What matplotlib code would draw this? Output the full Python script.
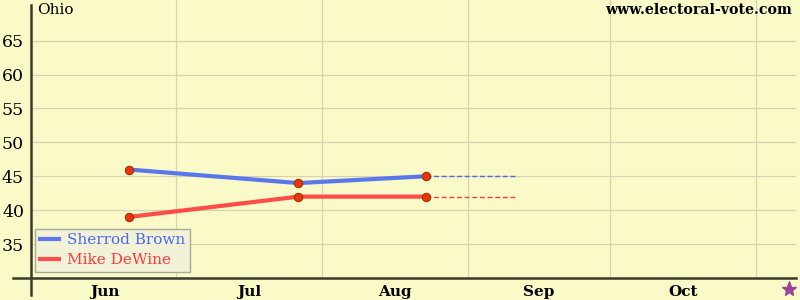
import matplotlib
matplotlib.use("Agg")
import matplotlib.pyplot as plt

# Data (x = days since Jun 1)
dates = [20, 56, 83]
brown = [46, 44, 45]
dewine = [39, 42, 42]
proj_end = 102
months = ["Jun", "Jul", "Aug", "Sep", "Oct"]
month_starts = [0, 30, 61, 92, 122, 153]
yticks = [35, 40, 45, 50, 55, 60, 65]
election_day = 160

bg = "#fafac8"
blue = "#4a6af0"
red = "#ff3a3a"

fig = plt.figure(figsize=(8, 3), dpi=100, facecolor=bg)
ax = fig.add_axes([31/800, 22/300, 765/800, 278/300])
ax.set_facecolor(bg)
ax.set_xlim(-0.7, 161.5)
ax.set_ylim(30.0, 71.0)

for s in ax.spines.values():
    s.set_visible(False)

# grid
for y in yticks:
    ax.axhline(y, color="#d4d4b4", lw=0.9, zorder=0)
for m in month_starts[1:]:
    ax.axvline(m, color="#d4d4b4", lw=0.9, zorder=0)

# axes lines
ax.plot([-0.0235, 1.0], [0, 0], transform=ax.transAxes, color="#3a3a2a", lw=1.8, clip_on=False)
ax.plot([0, 0], [-0.061, 0.982], transform=ax.transAxes, color="#3a3a2a", lw=1.8, clip_on=False)

ax.set_yticks(yticks)
ax.set_yticklabels([str(y) for y in yticks], fontfamily="DejaVu Serif", fontsize=12.5)
ax.tick_params(axis="y", length=0, pad=5)

centers = [(month_starts[i] + month_starts[i+1]) / 2 for i in range(5)]
ax.set_xticks(centers)
ax.set_xticklabels(months, fontfamily="DejaVu Serif", fontsize=11, fontweight="bold")
ax.tick_params(axis="x", length=0, pad=5)

# lines
lb, = ax.plot(dates, brown, color=blue, lw=3, alpha=0.9, label="Sherrod Brown", zorder=3)
lr, = ax.plot(dates, dewine, color=red, lw=3, alpha=0.9, label="Mike DeWine", zorder=3)
ax.plot([dates[-1], proj_end], [brown[-1], brown[-1]], color=blue, lw=1, ls=(0, (3.5, 2)), zorder=2)
ax.plot([dates[-1], proj_end], [dewine[-1], dewine[-1]], color=red, lw=1, ls=(0, (3.5, 2)), zorder=2)
ax.scatter(dates + dates, brown + dewine, s=36, color="#ee3311", edgecolor="#993300", linewidth=0.8, zorder=4)

# star below the axis at election day
ax.plot([election_day], [-11/278], marker="*", color="#994499", markersize=11,
        transform=ax.get_xaxis_transform(), clip_on=False, zorder=5)

# texts
fig.text(37/800, 1 - 10/300, "Ohio", fontfamily="DejaVu Serif", fontsize=11,
         va="center", ha="left")
fig.text(792/800, 1 - 10/300, "www.electoral-vote.com", fontfamily="DejaVu Serif", fontsize=10.2,
         fontweight="bold", va="center", ha="right")

leg = ax.legend(handles=[lb, lr], loc="lower left", bbox_to_anchor=(4/765, 6/278),
                prop={"family": "DejaVu Serif", "size": 11}, frameon=True, fancybox=False,
                handlelength=1.3, handletextpad=0.5, borderpad=0.3, labelspacing=0.4,
                borderaxespad=0)
leg.get_frame().set_facecolor("#f2f2d8")
leg.get_frame().set_edgecolor("#aaaa99")
leg.get_frame().set_alpha(1)
for t, c in zip(leg.get_texts(), [blue, red]):
    t.set_color(c)

fig.savefig("out.png", dpi=100, facecolor=bg)
